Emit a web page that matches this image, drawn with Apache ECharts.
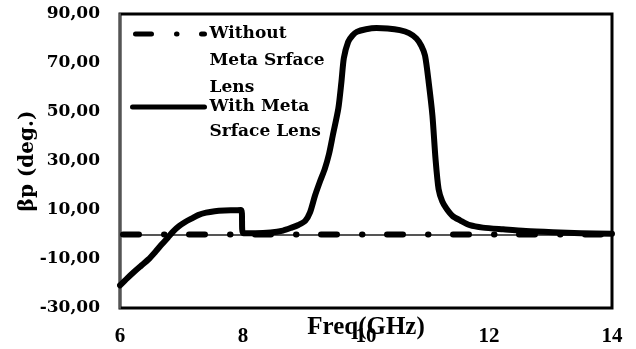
<!DOCTYPE html>
<html>
<head>
<meta charset="utf-8">
<script src="https://cdn.jsdelivr.net/npm/echarts@6/dist/echarts.min.js"></script>
<style>
  html, body { margin: 0; padding: 0; background: #fff; }
  #chart { width: 636px; height: 349px; }
</style>
</head>
<body>
<div id="chart"></div>
<script>
// Phase (deg.) versus frequency (GHz)
const freqTicks = [6, 8, 10, 12, 14];
const phaseTicks = [-30, -10, 10, 30, 50, 70, 90];

const seriesNames = ['Without Meta Srface Lens', 'With Meta Srface Lens'];
// Legend text broken over lines; leading blank lines keep the first line level with the key
const legendLines = {
  'Without Meta Srface Lens': '\n\nWithout\nMeta Srface\nLens',
  'With Meta Srface Lens': '\nWith Meta\nSrface Lens'
};

// Reference: no lens
const withoutFreq = [6, 14];
const withoutPhase = [0, 0];

// With the metasurface lens
const withFreq = [6.0, 6.12, 6.24, 6.35, 6.46, 6.57, 6.68, 6.78, 6.87, 6.96, 7.06, 7.17, 7.27,
  7.4, 7.54, 7.7, 7.85, 7.97, 8.0, 8.2, 8.45, 8.65, 8.79, 8.9, 9.01, 9.09, 9.17, 9.25, 9.33,
  9.4, 9.46, 9.55, 9.6, 9.64, 9.71, 9.78, 9.85, 10.0, 10.17, 10.35, 10.55, 10.7, 10.82, 10.9,
  10.96, 11.02, 11.08, 11.13, 11.18, 11.24, 11.31, 11.41, 11.53, 11.69, 11.9, 12.23, 12.6,
  13.04, 13.5, 14.0];
const withPhase = [-20.8, -17.8, -15, -12.6, -10.2, -7.2, -4.0, -1.2, 1.4, 3.4, 5.1, 6.6, 7.9,
  8.9, 9.5, 9.8, 9.9, 10.0, 0.6, 0.5, 0.8, 1.6, 2.8, 3.9, 5.5, 9, 15.8, 21.5, 26.8,
  33, 40.4, 51.4, 62.2, 72, 78.6, 81.2, 82.7, 83.8, 84.3, 84.1, 83.4, 82.2, 80, 77,
  73, 62, 48.6, 31, 18.6, 13.5, 10.5, 7.5, 5.8, 3.8, 2.8, 2.1, 1.4,
  0.9, 0.5, 0.3];

const zip = (xs, ys) => xs.map((x, i) => [x, ys[i]]);

const serifBold = { fontFamily: 'DejaVu Serif', fontWeight: 'bold', color: '#000' };
const timesBold = { fontFamily: 'Liberation Serif', fontWeight: 'bold', color: '#000' };

const legendCommon = {
  left: 130, orient: 'vertical', padding: 0,
  itemWidth: 72, itemHeight: 10, itemGap: 0,
  formatter: n => legendLines[n],
  itemStyle: { opacity: 0 },
  lineStyle: { width: 5 },
  inactiveColor: '#000',
  selectedMode: false
};

const chart = echarts.init(document.getElementById('chart'), null, { renderer: 'canvas' });

chart.setOption({
  animation: false,
  backgroundColor: '#fff',
  grid: {
    left: 120, right: 24, top: 14, bottom: 41,
    outerBoundsMode: 'none',
    show: true, borderColor: '#000', borderWidth: 3, backgroundColor: 'transparent'
  },
  legend: [
    Object.assign({}, legendCommon, {
      data: [seriesNames[0]],
      top: 34 - 67.5,
      textStyle: Object.assign({ fontSize: 17, lineHeight: 27 }, serifBold)
    }),
    Object.assign({}, legendCommon, {
      data: [seriesNames[1]],
      top: 107 - 37.5,
      textStyle: Object.assign({ fontSize: 17, lineHeight: 25 }, serifBold)
    })
  ],
  xAxis: {
    type: 'value',
    min: freqTicks[0], max: freqTicks[freqTicks.length - 1], interval: 2,
    name: 'Freq(GHz)', nameLocation: 'middle', nameGap: 7,
    nameMoveOverlap: false,
    nameTextStyle: Object.assign({ fontSize: 25 }, timesBold),
    axisLine: { show: true, lineStyle: { color: '#555', width: 2 } },
    axisTick: { show: false },
    splitLine: { show: false },
    axisLabel: Object.assign({ fontSize: 21, margin: 18 }, timesBold)
  },
  yAxis: {
    type: 'value',
    min: phaseTicks[0], max: phaseTicks[phaseTicks.length - 1], interval: 20,
    name: 'βp (deg.)', nameLocation: 'middle', nameGap: 82, nameRotate: 90,
    nameMoveOverlap: false,
    nameTextStyle: Object.assign({ fontSize: 20 }, serifBold),
    axisLine: { show: true, lineStyle: { color: '#555', width: 2 } },
    axisTick: { show: false },
    splitLine: { show: false },
    axisLabel: Object.assign({
      fontSize: 17, margin: 20,
      formatter: v => v.toFixed(2).replace('.', ',')
    }, serifBold)
  },
  series: [
    {
      name: seriesNames[0],
      type: 'line',
      color: '#000',
      data: zip(withoutFreq, withoutPhase),
      symbol: 'none',
      z: 2,
      // round caps: dash-dot with rounded dots
      lineStyle: { color: '#000', width: 6, type: [16, 25, 0.5, 24.5], dashOffset: -3, cap: 'round' }
    },
    {
      name: seriesNames[1],
      type: 'line',
      color: '#000',
      data: zip(withFreq, withPhase),
      symbol: 'none',
      smooth: 0.25,
      z: 3,
      lineStyle: { color: '#000', width: 6, cap: 'round', join: 'round' }
    }
  ]
});
</script>
</body>
</html>
